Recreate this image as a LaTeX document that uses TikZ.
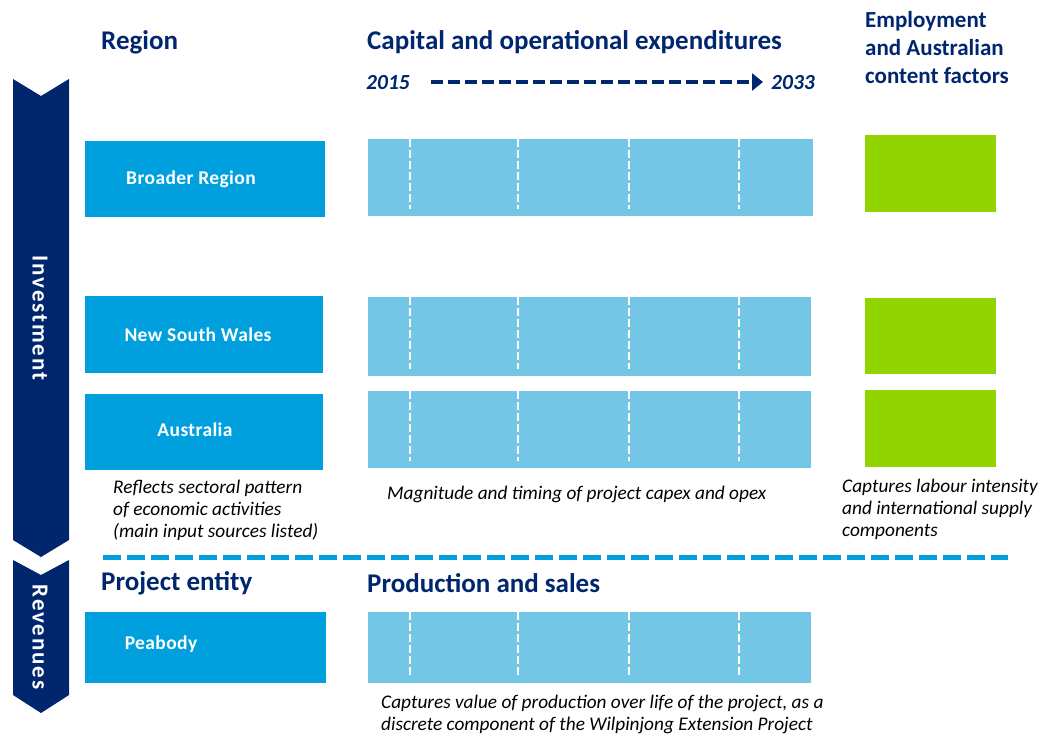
\documentclass[tikz,border=0pt]{standalone}
\usepackage{fontspec}
\setmainfont{Carlito}
\usetikzlibrary{arrows.meta}
\definecolor{navy}{RGB}{0,38,110}
\definecolor{boxblue}{RGB}{0,160,223}
\definecolor{barblue}{RGB}{115,198,230}
\definecolor{lgreen}{RGB}{146,212,0}
\tikzset{
  regionbox/.style={fill=boxblue, draw=none},
  barbox/.style={fill=barblue, draw=none},
  greenbox/.style={fill=lgreen, draw=none},
  boxtext/.style={text=white, font=\fontsize{19.5}{22}\selectfont\bfseries\addfontfeature{LetterSpace=2}, anchor=center},
  header/.style={text=navy, font=\fontsize{27}{30}\selectfont\bfseries, anchor=west, inner sep=0pt},
  subheader/.style={text=navy, font=\fontsize{23}{28}\selectfont\bfseries, anchor=west, inner sep=0pt, align=left},
  yeartext/.style={text=navy, font=\fontsize{21.5}{24}\selectfont\bfseries\itshape, anchor=west, inner sep=0pt},
  note/.style={text=black, font=\fontsize{19.3}{22}\selectfont\itshape, anchor=north west, inner sep=0pt, align=left},
  sep/.style={white, dash pattern=on 8pt off 3pt, line width=2.5pt},
  sidearrow/.style={fill=navy, draw=none},
  sidetext/.style={text=white, font=\fontsize{23}{25}\selectfont\bfseries\addfontfeature{LetterSpace=8}, rotate=-90, anchor=center},
}
\begin{document}
\begin{tikzpicture}[x=1pt,y=-1pt]
\useasboundingbox (0,0) rectangle (1045,736);
% side arrows
\fill[sidearrow] (13,79) -- (41,96) -- (69,79) -- (69,540) -- (41,557) -- (13,540) -- cycle;
\fill[sidearrow] (13,560) -- (41,575) -- (69,560) -- (69,695) -- (41,713) -- (13,695) -- cycle;
\node[sidetext] (inv) at (40,318) {Investment};
\node[sidetext] (rev) at (40,637) {Revenues};
% headers
\node[header] (hregion) at (101,42) {Region};
\node[header] (hcap) at (367,42) {Capital and operational expenditures};
\node[subheader, anchor=north west] (hemp) at (865,11) {Employment\\and Australian\\content factors};
\node[yeartext] (y1) at (366,83) {2015};
\node[yeartext] (y2) at (771,83) {2033};
\coordinate (arrS) at (431,82);
\coordinate (arrE) at (763,82);
\draw[navy, line width=3.5pt, dash pattern=on 12pt off 5pt, -{Triangle[length=11pt,width=17pt]}] (arrS) -- (arrE);
% region boxes
\fill[regionbox] (85,141) rectangle (325,217);
\node[boxtext] (br) at (191,179) {Broader Region};
\fill[regionbox] (85,296) rectangle (323,373);
\node[boxtext] (nsw) at (198,335) {New South Wales};
\fill[regionbox] (85,394) rectangle (323,470);
\node[boxtext] (aus) at (195,430) {Australia};
% bars
\foreach \ya/\yb/\xb in {139/216/813, 297/376/811, 391/468/811, 612/683/811}{
  \fill[barbox] (368,\ya) rectangle (\xb,\yb);
  \foreach \xs in {410,518,629,739}{
    \draw[sep] (\xs,\ya) -- (\xs,\yb-7);
  }
}
% green boxes
\fill[greenbox] (865,135) rectangle (996,212);
\fill[greenbox] (865,298) rectangle (996,374);
\fill[greenbox] (865,390) rectangle (996,467);
% notes
\node[note] (n1) at (113,480) {Reflects sectoral pattern\\of economic activities\\(main input sources listed)};
\node[note] (n2) at (387,486) {Magnitude and timing of project capex and opex};
\node[note] (n3) at (842,479) {Captures labour intensity\\and international supply\\components};
% separator
\coordinate (sepS) at (103,557);
\coordinate (sepE) at (1008,557);
\draw[boxblue, line width=5pt, dash pattern=on 18pt off 6pt] (sepS) -- (sepE);
% revenues section
\node[header] (hproj) at (101,583) {Project entity};
\node[header] (hprod) at (367,583) {Production and sales};
\fill[regionbox] (85,612) rectangle (326,683);
\node[boxtext] (pea) at (161,644) {Peabody};
\node[note] (n4) at (381,695) {Captures value of production over life of the project, as a\\discrete component of the Wilpinjong Extension Project};
\end{tikzpicture}
\end{document}
